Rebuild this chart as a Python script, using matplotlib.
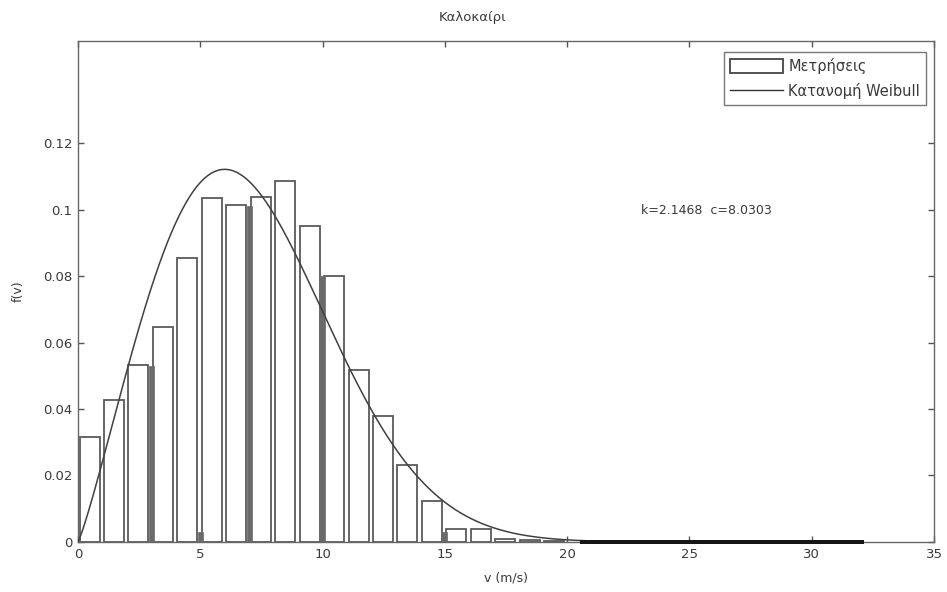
import numpy as np
import matplotlib
matplotlib.use("Agg")
import matplotlib.pyplot as plt
from matplotlib.patches import Patch
from matplotlib.lines import Line2D

plt.rcParams['font.family'] = ['DejaVu Sans']

# ---- data ----
title = "Καλοκαίρι"
xlabel = "v (m/s)"
ylabel = "f(v)"
legend_labels = ["Μετρήσεις", "Κατανομή Weibull"]
bin_centers = [i + 0.47 for i in range(20)]
freq = [0.0316, 0.0427, 0.0532, 0.0647, 0.0854, 0.1035, 0.1013, 0.1037, 0.1086,
        0.0950, 0.0800, 0.0517, 0.0379, 0.0232, 0.0123, 0.0039, 0.0039, 0.0009,
        0.0006, 0.0004]
tail_centers = [20.99 + 0.97 * j for j in range(12)]
tail_freq = [0.0] * 12
dark_pos = [0, 3, 5, 7, 10, 15]
dark_freq = [0.032, 0.053, 0.003, 0.101, 0.080, 0.003]
k_shape = 2.1468
c_scale = 8.0303
xticks = [0, 5, 10, 15, 20, 25, 30, 35]
yticks = [0, 0.02, 0.04, 0.06, 0.08, 0.1, 0.12]
ytick_labels = ["0", "0.02", "0.04", "0.06", "0.08", "0.1", "0.12"]

txt = '#3a3a3a'
fs = 9.5
fig = plt.figure(figsize=(9.47, 5.92), dpi=100)
ax = fig.add_axes([0.0824, 0.0845, 0.9039, 0.8462])

ax.bar(bin_centers, freq, width=0.82, facecolor='white', edgecolor='#5a5a5a',
       linewidth=1.3, zorder=2)
ax.bar(dark_pos, dark_freq, width=0.2, facecolor='#6a6a6a', edgecolor='#6a6a6a',
       linewidth=0.5, zorder=2)
# zero-count bins drawn as a thick dark baseline
ax.bar(tail_centers, [f + 0.0012 for f in tail_freq], bottom=-0.0006, width=0.97,
       facecolor='#151515', edgecolor='none', linewidth=0, zorder=4, clip_on=False)

v = np.linspace(0, 32, 600)
pdf = (k_shape / c_scale) * (v / c_scale) ** (k_shape - 1) * np.exp(-(v / c_scale) ** k_shape)
ax.plot(v, pdf, color='#404040', linewidth=1.1, zorder=3)

ax.set_xlim(0, 35)
ax.set_ylim(0, 0.1507)
ax.set_xticks(xticks)
ax.set_yticks(yticks)
ax.set_yticklabels(ytick_labels)
ax.tick_params(direction='in', top=True, right=True, length=4, width=1,
               colors='#555555', labelcolor=txt, labelsize=fs, pad=4)
for s in ax.spines.values():
    s.set_color('#666666')
    s.set_linewidth(1.0)

fig.text(473 / 947, 1 - 18 / 592, title, fontsize=fs, color=txt,
         ha='center', va='center')
ax.set_xlabel(xlabel, fontsize=fs - 0.5, color=txt, labelpad=8)
ax.set_ylabel(ylabel, fontsize=fs - 0.5, color=txt, labelpad=13)

ax.text(23.0, 0.0998, f"k={k_shape}  c={c_scale}", fontsize=fs - 0.5, color=txt,
        va='center', ha='left')

handles = [Patch(facecolor='white', edgecolor='#444444', linewidth=1.3),
           Line2D([0], [0], color='#333333', linewidth=1.0)]
leg = ax.legend(handles, legend_labels, loc='upper right',
                bbox_to_anchor=(0.9907, 0.978), fontsize=10.5, frameon=True,
                fancybox=False, edgecolor='#555555', handlelength=3.6,
                handleheight=1.15, handletextpad=0.4, borderpad=0.4,
                labelspacing=0.65, borderaxespad=0)
leg.get_frame().set_linewidth(1.0)
for t in leg.get_texts():
    t.set_color(txt)

fig.savefig("out.png", dpi=100, facecolor='white')
